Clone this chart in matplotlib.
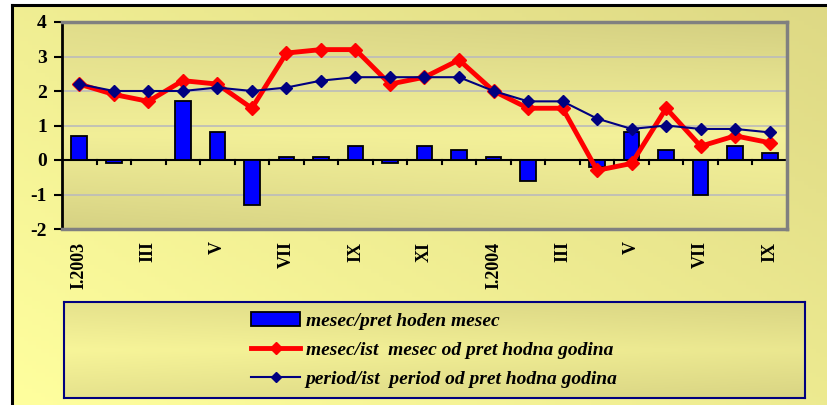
import numpy as np
import matplotlib
matplotlib.use("Agg")
import matplotlib.pyplot as plt
from matplotlib.lines import Line2D
from matplotlib.patches import Patch

# meseci I.2003 - IX.2004
meseci = ["I.2003", "II", "III", "IV", "V", "VI", "VII", "VIII", "IX", "X", "XI", "XII",
          "I.2004", "II", "III", "IV", "V", "VI", "VII", "VIII", "IX"]
mesec_pret = [0.7, -0.1, 0.0, 1.7, 0.8, -1.3, 0.1, 0.1, 0.4, -0.1, 0.4, 0.3,
              0.1, -0.6, 0.0, -0.2, 0.8, 0.3, -1.0, 0.4, 0.2]
mesec_god = [2.2, 1.9, 1.7, 2.3, 2.2, 1.5, 3.1, 3.2, 3.2, 2.2, 2.4, 2.9,
             2.0, 1.5, 1.5, -0.3, -0.1, 1.5, 0.4, 0.7, 0.5]
period_god = [2.2, 2.0, 2.0, 2.0, 2.1, 2.0, 2.1, 2.3, 2.4, 2.4, 2.4, 2.4,
              2.0, 1.7, 1.7, 1.2, 0.9, 1.0, 0.9, 0.9, 0.8]
legenda = ["mesec/pret hoden mesec",
           "mesec/ist  mesec od pret hodna godina",
           "period/ist  period od pret hodna godina"]

W, H = 828, 405
fig = plt.figure(figsize=(W / 100, H / 100), dpi=100)
fig.patch.set_facecolor("white")

# pozadina
bg = fig.add_axes([12 / W, 0, 1 - 12 / W, 1 - 5 / H])
yy, xx = np.mgrid[0:1:100j, 0:1:200j]
t = np.clip(0.55 * xx + 0.45 * yy, 0, 1)
img = np.array([1.0, 1.0, 0.62]) * (1 - t[..., None]) + np.array([0.87, 0.85, 0.52]) * t[..., None]
bg.imshow(img, extent=[0, 1, 0, 1], aspect="auto", origin="lower", zorder=0)
bg.set_xlim(0, 1)
bg.set_ylim(0, 1)
bg.set_xticks([])
bg.set_yticks([])
for s in bg.spines.values():
    s.set_linewidth(2.2)
    s.set_color("black")
bg.spines["right"].set_visible(False)
bg.spines["bottom"].set_visible(False)

# glavni grafikon
ax = fig.add_axes([62 / W, 1 - 229 / H, 725 / W, 207 / H])
yy, xx = np.mgrid[0:1:100j, 0:1:200j]
light = np.array([0.98, 0.97, 0.62])
dark = np.array([0.78, 0.76, 0.47])
tt = np.abs(yy - 0.45) * 0.9 + xx * 0.25 * yy
tt = np.clip(tt + (1 - yy) * (1 - xx) * 0.3, 0, 1)
img = light * (1 - tt[..., None]) + dark * tt[..., None]
ax.imshow(img, extent=[-0.5, 20.5, -2, 4], aspect="auto", origin="lower", zorder=0)

x = np.arange(len(meseci))
ax.bar(x, mesec_pret, width=0.45, color="#0000FF", edgecolor="black", linewidth=1.3, zorder=3)
ax.plot(x, mesec_god, color="#FF0000", linewidth=3.5, marker="D", markersize=7,
        zorder=4)
ax.plot(x, period_god, color="#000080", linewidth=1.5, marker="D", markersize=6,
        zorder=5)

for yv in [-1, 1, 2, 3]:
    ax.axhline(yv, color="#BBBBBB", linewidth=1.2, zorder=1)
ax.axhline(0, color="black", linewidth=1.5, zorder=2)
for b in np.arange(0.5, 20.5, 1):
    ax.plot([b, b], [0, -0.12], color="black", linewidth=1.5, zorder=2)

ax.set_xlim(-0.5, 20.5)
ax.set_ylim(-2, 4)
ax.set_yticks(range(-2, 5))
ax.set_yticklabels([str(v) for v in range(-2, 5)], fontsize=14,
                   fontweight="bold", family="Liberation Serif")
ax.tick_params(axis="y", length=6, width=1.5, pad=5)
ax.set_xticks(x[::2])
ax.set_xticklabels(meseci[::2], rotation=90, fontsize=13, fontweight="bold",
                   family="Liberation Serif", va="top")
ax.tick_params(axis="x", length=0, pad=9)
ax.spines["left"].set_color("black")
ax.spines["left"].set_linewidth(2)
for k in ["top", "right", "bottom"]:
    ax.spines[k].set_color("#808080")
    ax.spines[k].set_linewidth(2.5)

# legenda
lax = fig.add_axes([64 / W, 1 - 398 / H, 741 / W, 96 / H])
yy, xx = np.mgrid[0:1:50j, 0:1:200j]
tt = np.clip(np.abs(yy - 0.5) * 0.8 + xx * 0.3, 0, 1)
img = np.array([0.97, 0.96, 0.60]) * (1 - tt[..., None]) + np.array([0.80, 0.78, 0.48]) * tt[..., None]
lax.imshow(img, extent=[0, 1, 0, 1], aspect="auto", origin="lower", zorder=0)
lax.set_xlim(0, 1)
lax.set_ylim(0, 1)
lax.set_xticks([])
lax.set_yticks([])
for s in lax.spines.values():
    s.set_color("#000080")
    s.set_linewidth(1.5)

handles = [Patch(facecolor="#0000FF", edgecolor="black", linewidth=1.3),
           Line2D([], [], color="#FF0000", linewidth=3.5, marker="D", markersize=6),
           Line2D([], [], color="#000080", linewidth=1.5, marker="D", markersize=5)]
lax.legend(handles, legenda, loc="center", frameon=False,
           prop={"family": "Liberation Serif", "weight": "bold", "style": "italic", "size": 14},
           labelspacing=0.6, handlelength=2.5, handletextpad=0.3)

fig.savefig("out.png", dpi=100)
